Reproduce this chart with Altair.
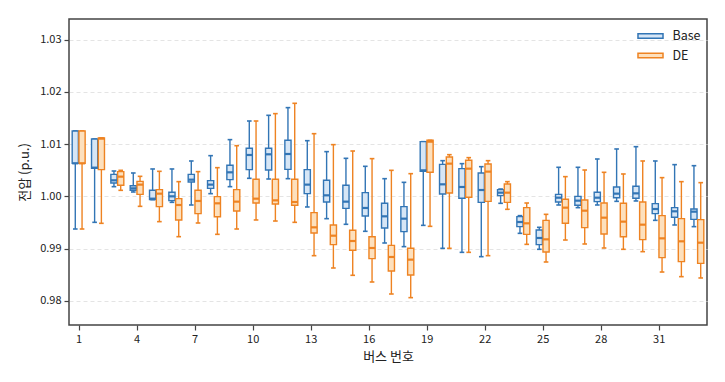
import altair as alt
import pandas as pd

buses = list(range(1, 34))
groups = ["Base", "DE"]

base_low = [0.99374, 0.99502, 1.00185, 1.00083, 0.99936, 0.99885, 0.99834, 1.00051, 1.00185, 1.00345,
            1.00332, 1.00338, 0.99796, 0.99572, 0.99464, 0.99330, 0.99106, 0.99036, 0.99444, 0.99004,
            0.98927, 0.98844, 0.99866, 0.99291, 0.98985, 0.99834, 0.99783, 0.99834, 0.99904, 0.99911,
            0.99540, 0.99451, 0.99419]
base_q1 = [1.00632, 1.00536, 1.00255, 1.00115, 0.99936, 0.99917, 1.00275, 1.00153, 1.00319, 1.00511,
           1.00504, 1.00517, 1.00051, 0.99891, 0.99770, 0.99623, 0.99393, 0.99323, 1.00479, 1.00045,
           0.99962, 0.99885, 1.00013, 0.99419, 0.99074, 0.99891, 0.99828, 0.99898, 0.99974, 0.99962,
           0.99668, 0.99598, 0.99559]
base_med = [1.00632, 1.00549, 1.00307, 1.00153, 0.99955, 1.00000, 1.00319, 1.00224, 1.00460, 1.00792,
            1.00805, 1.00811, 1.00224, 1.00019, 0.99898, 0.99777, 0.99617, 0.99572, 1.00498, 1.00230,
            1.00179, 1.00121, 1.00070, 0.99508, 0.99202, 0.99974, 0.99917, 0.99974, 1.00051, 1.00057,
            0.99757, 0.99713, 0.99706]
base_q3 = [1.01252, 1.01098, 1.00421, 1.00204, 1.00115, 1.00077, 1.00421, 1.00300, 1.00594, 1.00920,
           1.00920, 1.01073, 1.00511, 1.00307, 1.00211, 1.00070, 0.99866, 0.99802, 1.01047, 1.00613,
           1.00530, 1.00447, 1.00128, 0.99611, 0.99355, 1.00038, 1.00000, 1.00077, 1.00179, 1.00192,
           0.99860, 0.99783, 0.99757]
base_high = [1.01252, 1.01098, 1.00485, 1.00447, 1.00524, 1.00524, 1.00677, 1.00779, 1.01086, 1.01443,
             1.01552, 1.01699, 1.01066, 1.00856, 1.00728, 1.00575, 1.00338, 1.00268, 1.01047, 1.00683,
             1.00626, 1.00568, 1.00140, 0.99630, 0.99406, 1.00556, 1.00556, 1.00715, 1.00907, 1.00951,
             1.00677, 1.00607, 1.00587]

de_low = [0.99374, 0.99483, 1.00115, 0.99808, 0.99515, 0.99227, 0.99489, 0.99272, 0.99374, 0.99547,
          0.99527, 0.99502, 0.98863, 0.98627, 0.98487, 0.98359, 0.98129, 0.98059, 0.99425, 0.99004,
          0.98927, 0.98863, 0.99751, 0.99080, 0.98742, 0.99163, 0.99087, 0.99010, 0.98985, 0.98940,
          0.98550, 0.98461, 0.98436]
de_q1 = [1.00632, 1.00511, 1.00211, 1.00038, 0.99802, 0.99547, 0.99668, 0.99610, 0.99719, 0.99872,
         0.99853, 0.99828, 0.99298, 0.99074, 0.98966, 0.98806, 0.98570, 0.98493, 1.00460, 1.00064,
         0.99981, 0.99904, 0.99885, 0.99272, 0.98934, 0.99483, 0.99400, 0.99278, 0.99227, 0.99170,
         0.98825, 0.98749, 0.98716]
de_med = [1.00632, 1.01105, 1.00377, 1.00224, 1.00051, 0.99834, 0.99911, 0.99866, 0.99898, 0.99955,
          0.99923, 0.99891, 0.99406, 0.99246, 0.99144, 0.99010, 0.98838, 0.98787, 1.01047, 1.00626,
          1.00530, 1.00473, 1.00070, 0.99483, 0.99176, 0.99783, 0.99725, 0.99591, 0.99515, 0.99457,
          0.99195, 0.99138, 0.99112]
de_q3 = [1.01252, 1.01117, 1.00473, 1.00287, 1.00128, 0.99955, 1.00115, 0.99994, 1.00128, 1.00326,
         1.00326, 1.00326, 0.99687, 0.99451, 0.99349, 0.99227, 0.99061, 0.99004, 1.01073, 1.00754,
         1.00690, 1.00619, 1.00236, 0.99783, 0.99540, 0.99943, 0.99930, 0.99872, 0.99866, 0.99891,
         0.99630, 0.99572, 0.99553]
de_high = [1.01252, 1.01117, 1.00498, 1.00383, 1.00479, 1.00281, 1.00473, 1.00549, 1.00970, 1.01443,
           1.01584, 1.01782, 1.01200, 1.00990, 1.00868, 1.00722, 1.00498, 1.00434, 1.01073, 1.00798,
           1.00741, 1.00683, 1.00281, 0.99872, 0.99655, 1.00377, 1.00504, 1.00460, 1.00428, 1.00677,
           1.00358, 1.00281, 1.00262]

x_ticks = [1, 4, 7, 10, 13, 16, 19, 22, 25, 28, 31]
y_ticks = [0.98, 0.99, 1.00, 1.01, 1.02, 1.03]

rows = []
for g, lo, q1, md, q3, hi in [("Base", base_low, base_q1, base_med, base_q3, base_high),
                              ("DE", de_low, de_q1, de_med, de_q3, de_high)]:
    for i, b in enumerate(buses):
        rows.append(dict(bus=b, group=g, low=lo[i], q1=q1[i], med=md[i], q3=q3[i], high=hi[i]))
df = pd.DataFrame(rows)

FONT = "Noto Sans CJK KR"
stroke_cols = ["#3275b5", "#ee8322"]
fill_cols = ["#d6e6f6", "#fde0bd"]

base = alt.Chart(df).transform_calculate(
    pos="datum.bus + (datum.group == 'Base' ? -0.175 : 0.175)"
).transform_calculate(
    bl="datum.pos - 0.16", br="datum.pos + 0.16",
    cl="datum.pos - 0.12", cr="datum.pos + 0.12",
)

xsc = alt.Scale(domain=[0.5, 33.5], nice=False, zero=False)
ysc = alt.Scale(domain=[0.97535, 1.03397], nice=False, zero=False)
stroke_scale = alt.Scale(domain=groups, range=stroke_cols)
fill_scale = alt.Scale(domain=groups, range=fill_cols)

xax = alt.Axis(values=x_ticks, format="d", title="버스 번호", grid=False)
yax = alt.Axis(values=y_ticks, format=".2f", title="전압 (p.u.)", grid=True)

stroke_enc = alt.Stroke("group:N", scale=stroke_scale, title=None)

whisk = base.mark_rule(strokeWidth=1.4).encode(
    x=alt.X("pos:Q", scale=xsc, axis=xax),
    y=alt.Y("low:Q", scale=ysc, axis=yax),
    y2="high:Q",
    stroke=stroke_enc,
)
cap_lo = base.mark_rule(strokeWidth=1.6).encode(
    x="cl:Q", x2="cr:Q", y="low:Q", stroke=stroke_enc,
)
cap_hi = base.mark_rule(strokeWidth=1.6).encode(
    x="cl:Q", x2="cr:Q", y="high:Q", stroke=stroke_enc,
)
box = base.mark_rect(strokeWidth=1.4).encode(
    x="bl:Q", x2="br:Q", y="q1:Q", y2="q3:Q",
    fill=alt.Fill("group:N", scale=fill_scale, title=None),
    stroke=stroke_enc,
)
med = base.mark_rule(strokeWidth=2.2).encode(
    x="bl:Q", x2="br:Q", y="med:Q", stroke=stroke_enc,
)

chart = alt.layer(whisk, cap_lo, cap_hi, box, med).properties(
    width=638, height=306,
    autosize=alt.AutoSizeParams(type="none"),
    padding={"left": 61, "top": 11, "right": 10, "bottom": 40},
).configure(
    font=FONT,
).configure_view(
    stroke="#444444", strokeWidth=1.5,
).configure_axis(
    domain=False, tickColor="#444444", tickSize=5, tickWidth=1.2,
    labelFont=FONT, labelFontSize=11, labelColor="#222222",
    titleFont=FONT, titleFontSize=13, titleFontWeight="normal", titleColor="#222222",
    gridColor="#e4e4e4", gridDash=[4, 3], gridWidth=1,
).configure_axisY(
    labelPadding=3, titlePadding=8,
).configure_axisX(
    labelPadding=3, titlePadding=6,
).configure_legend(
    orient="none", legendX=571.5, legendY=7, padding=0,
    symbolType="M-1.39,-0.25H1.39V0.25H-1.39Z", symbolSize=324, symbolStrokeWidth=1.5,
    labelFont=FONT, labelFontSize=12.5, labelColor="#222222", rowPadding=2.5, labelOffset=12,
)

chart.save("out.html", embed_options={"renderer": "svg", "actions": False})
